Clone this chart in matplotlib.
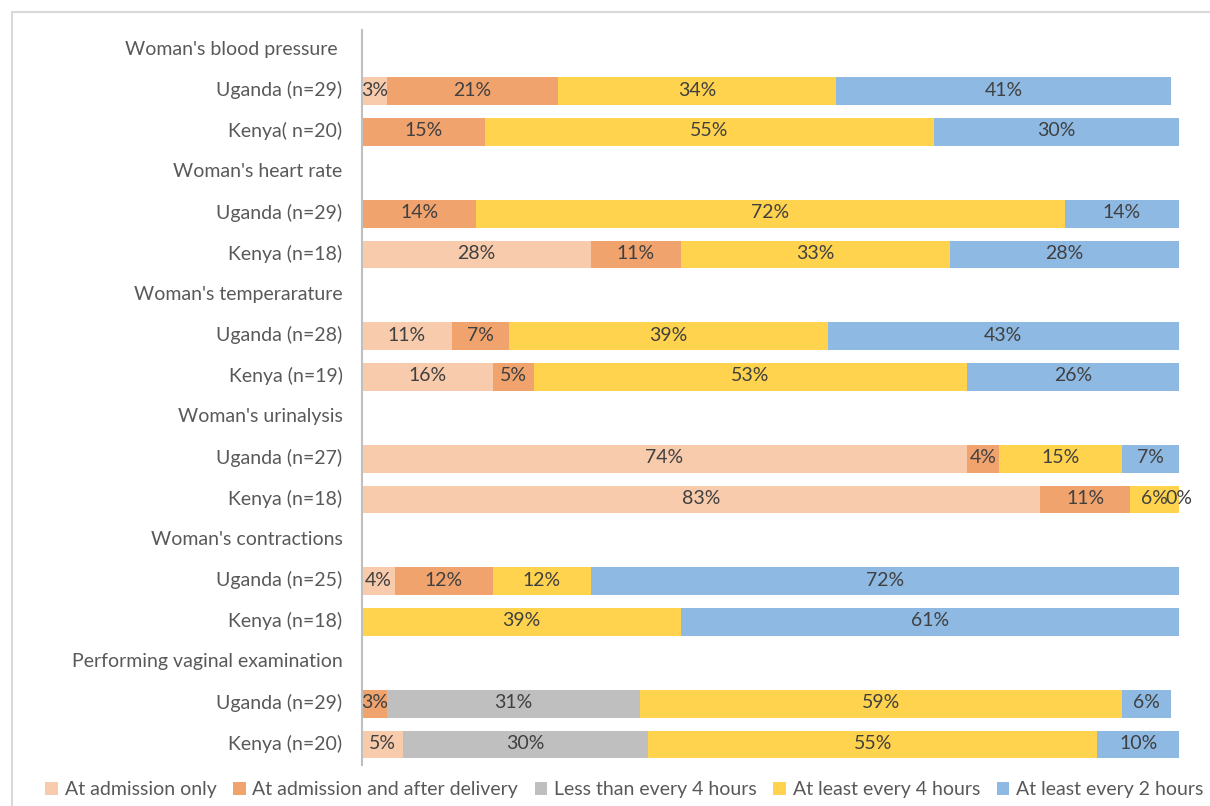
import numpy as np
import matplotlib
matplotlib.use("Agg")
import matplotlib.pyplot as plt
from matplotlib.patches import Rectangle

plt.rcParams['font.family'] = ['Lato', 'DejaVu Sans']

# Row labels, top to bottom (section headers carry no bars)
rows = [
    "Woman's blood pressure ", "Uganda (n=29)", "Kenya( n=20)",
    "Woman's heart rate", "Uganda (n=29)", "Kenya (n=18)",
    "Woman's temperarature", "Uganda (n=28)", "Kenya (n=19)",
    "Woman's urinalysis", "Uganda (n=27)", "Kenya (n=18)",
    "Woman's contractions", "Uganda (n=25)", "Kenya (n=18)",
    "Performing vaginal examination", "Uganda (n=29)", "Kenya (n=20)",
]

series = ["At admission only", "At admission and after delivery",
          "Less than every 4 hours", "At least every 4 hours",
          "At least every 2 hours"]

nan = np.nan
# Percentages per row; NaN = no segment drawn
admission_only = [nan, 3, nan, nan, nan, 28, nan, 11, 16, nan, 74, 83, nan, 4, nan, nan, nan, 5]
admission_and_delivery = [nan, 21, 15, nan, 14, 11, nan, 7, 5, nan, 4, 11, nan, 12, nan, nan, 3, nan]
less_than_4h = [nan, nan, nan, nan, nan, nan, nan, nan, nan, nan, nan, nan, nan, nan, nan, nan, 31, 30]
every_4h = [nan, 34, 55, nan, 72, 33, nan, 39, 53, nan, 15, 6, nan, 12, 39, nan, 59, 55]
every_2h = [nan, 41, 30, nan, 14, 28, nan, 43, 26, nan, 7, 0, nan, 72, 61, nan, 6, 10]

data = [admission_only, admission_and_delivery, less_than_4h, every_4h, every_2h]
colors = ["#F8CBAD", "#F1A36E", "#BFBFBF", "#FFD34D", "#8EB9E2"]

FS = 14

fig = plt.figure(figsize=(12.1, 8.06), dpi=100)
ax = fig.add_axes([362/1210, 1 - 765/806, (1179 - 362)/1210, (765 - 30)/806])

y = np.arange(len(rows))
left = np.zeros(len(rows))
for name, vals, col in zip(series, data, colors):
    v = np.array(vals, dtype=float)
    w = np.nan_to_num(v)
    ax.barh(y, w, left=left, height=0.68, color=col, label=name,
            edgecolor='none')
    for i, val in enumerate(v):
        if not np.isnan(val):
            ax.text(left[i] + w[i] / 2, y[i] - 0.03, f"{int(val)}%", ha='center',
                    va='center', fontsize=FS, color='#404040')
    left += w

ax.set_xlim(0, 100)
ax.set_ylim(len(rows) - 0.5, -0.5)
ax.set_yticks(y - 0.06)
ax.set_yticklabels(rows, fontsize=FS, color='#595959')
ax.tick_params(axis='y', length=0, pad=14)
ax.set_xticks([])
for s in ['top', 'right', 'bottom']:
    ax.spines[s].set_visible(False)
ax.spines['left'].set_color('#BFBFBF')
ax.spines['left'].set_linewidth(1.5)

leg = fig.legend(loc='center', bbox_to_anchor=(0.516, 1 - 790/806), ncol=5,
                 frameon=False, fontsize=FS, handlelength=0.65,
                 handleheight=0.65, handletextpad=0.35, columnspacing=0.85)
for t in leg.get_texts():
    t.set_color('#595959')

# Outer chart frame
fig.patches.append(Rectangle((12/1210, -0.1), 1.2, 1 - 12/806 + 0.1,
                             transform=fig.transFigure, fill=False,
                             edgecolor='#D9D9D9', linewidth=1.5))

fig.savefig("out.png", dpi=100)
